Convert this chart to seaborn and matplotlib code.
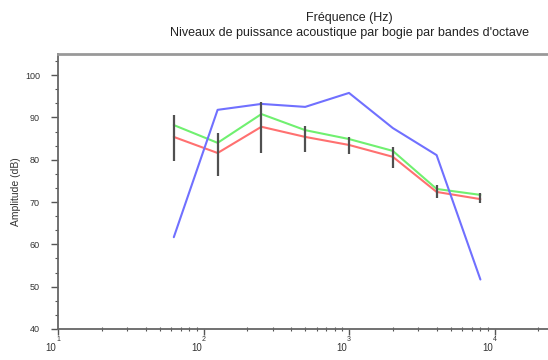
import numpy as np
import pandas as pd
import matplotlib
matplotlib.use("Agg")
import matplotlib.pyplot as plt
from matplotlib.ticker import MultipleLocator, FixedLocator, NullFormatter
import seaborn as sns

# Octave band centres (Hz) and levels (dB)
freqs = [62.5, 125, 250, 500, 1000, 2000, 4000, 8000]
blue_db = [61.7, 91.8, 93.2, 92.5, 95.8, 87.5, 81.1, 51.7]
green_db = [88.2, 84.0, 90.8, 87.0, 84.9, 82.1, 73.1, 71.7]
red_db = [85.4, 81.6, 87.8, 85.4, 83.5, 80.7, 72.4, 70.7]
err_low = [79.7, 76.2, 81.6, 81.8, 81.4, 78.0, 71.0, 69.8]
err_high = [90.6, 86.3, 93.7, 88.0, 85.4, 83.0, 74.0, 72.2]

decades = [10, 100, 1000, 10000]
decade_exp = ["1", "2", "3", "4"]

title_txt = "Fréquence (Hz)\nNiveaux de puissance acoustique par bogie par bandes d'octave"
ylabel_txt = "Amplitude (dB)"

sns.set_theme(style="white")
plt.rcParams['font.family'] = ['Liberation Sans', 'DejaVu Sans']

df = pd.DataFrame({
    'freq': freqs * 3,
    'db': red_db + green_db + blue_db,
    'serie': ['red'] * 8 + ['green'] * 8 + ['blue'] * 8,
})
palette = {'red': '#ff7070', 'green': '#70f070', 'blue': '#7070ff'}

W, H = 548, 360
fig = plt.figure(figsize=(W / 100, H / 100), dpi=100)
# axes runs past the right edge of the picture (cropped, as in the reference)
ax = fig.add_axes([58 / W, (H - 329) / H, (640 - 58) / W, (329 - 54) / H])

sns.lineplot(data=df, x='freq', y='db', hue='serie', palette=palette,
             hue_order=['red', 'green', 'blue'], legend=False, ax=ax,
             linewidth=1.5)
ax.vlines(freqs, err_low, err_high, colors='#505050', linewidth=1.6, zorder=3)

ax.set_xscale('log')
ax.set_xlim(10, 100000)
ax.set_ylim(40, 105)

ax.yaxis.set_major_locator(FixedLocator([40, 50, 60, 70, 80, 90, 100]))
ax.yaxis.set_minor_locator(MultipleLocator(10 / 3))
ax.xaxis.set_major_locator(FixedLocator(decades))
ax.set_xticklabels(decade_exp)
ax.xaxis.set_minor_formatter(NullFormatter())

ax.tick_params(axis='y', which='major', direction='out', length=5, width=1,
               color='#555555', labelsize=6.5, pad=8, labelcolor='#333333', left=True)
ax.tick_params(axis='y', which='minor', direction='out', length=2.5, width=0.8,
               color='#555555', left=True)
ax.tick_params(axis='x', which='major', direction='out', length=4, width=1,
               color='#555555', labelsize=5, pad=1, labelcolor='#333333', bottom=True)
ax.tick_params(axis='x', which='minor', direction='inout', length=3, width=0.8,
               color='#555555', bottom=True)

for d in decades:
    ax.annotate("10", xy=(d, 0), xycoords=('data', 'axes fraction'),
                xytext=(-7, -19), textcoords='offset pixels',
                ha='center', va='center', fontsize=7, color='#333333')

for side in ['left', 'bottom', 'top']:
    ax.spines[side].set_color('#666666')
    ax.spines[side].set_linewidth(1.3)
ax.spines['top'].set_color('#999999')
ax.spines['top'].set_linewidth(2)
ax.spines['right'].set_visible(False)

ax.set_xlabel('')
ax.set_ylabel(ylabel_txt, fontsize=7.5, color='#333333', labelpad=3)
ax.set_title(title_txt, fontsize=9, color='#222222', pad=13, linespacing=1.3)

fig.savefig('out.png', dpi=100)
